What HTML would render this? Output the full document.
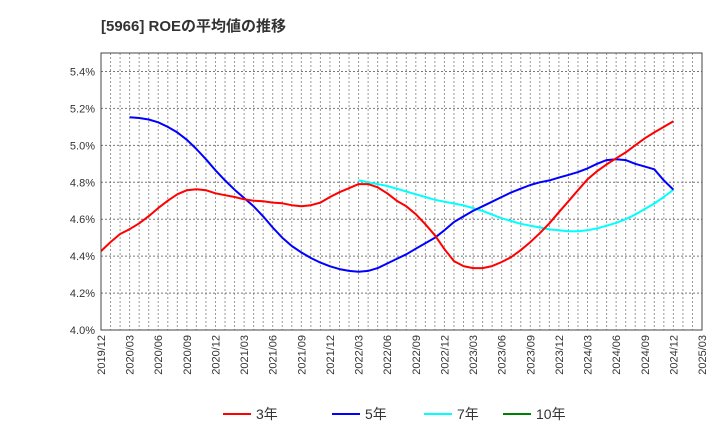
<!DOCTYPE html>
<html><head><meta charset="utf-8">
<style>
body{margin:0;background:#fff;font-family:"Liberation Sans","Noto Sans CJK JP",sans-serif;}
#c{position:absolute;left:0;top:0;width:720px;height:440px;}
</style></head>
<body>
<svg id="c" width="720" height="440" xmlns="http://www.w3.org/2000/svg">
<text x="101" y="31" font-size="15" font-weight="bold" fill="#333">[5966]  ROEの平均値の推移</text>
<g id="grid"></g>
<g id="series"></g>
<g id="axes"></g>
<g id="legend"></g>
</svg>
<script>
const yTicks=[4.0,4.2,4.4,4.6,4.8,5.0,5.2,5.4];
const xTickLabels=["2019/12","2020/03","2020/06","2020/09","2020/12","2021/03","2021/06","2021/09","2021/12","2022/03","2022/06","2022/09","2022/12","2023/03","2023/06","2023/09","2023/12","2024/03","2024/06","2024/09","2024/12","2025/03"];
const s3=[4.427,4.476,4.52,4.546,4.578,4.616,4.66,4.70,4.735,4.757,4.762,4.757,4.74,4.73,4.72,4.708,4.70,4.697,4.69,4.686,4.676,4.67,4.676,4.69,4.72,4.746,4.768,4.79,4.79,4.773,4.74,4.70,4.67,4.627,4.573,4.513,4.438,4.373,4.346,4.335,4.335,4.346,4.368,4.395,4.432,4.476,4.524,4.578,4.638,4.697,4.757,4.816,4.86,4.897,4.93,4.962,5.0,5.038,5.07,5.10,5.13];
const s5=[null,null,null,5.152,5.148,5.14,5.125,5.10,5.07,5.03,4.98,4.925,4.865,4.81,4.76,4.715,4.67,4.615,4.555,4.50,4.455,4.42,4.39,4.365,4.345,4.33,4.32,4.315,4.32,4.335,4.36,4.385,4.41,4.44,4.47,4.50,4.54,4.585,4.615,4.645,4.67,4.695,4.72,4.745,4.765,4.785,4.80,4.81,4.825,4.84,4.855,4.875,4.90,4.92,4.925,4.92,4.90,4.885,4.87,4.81,4.76];
const s7=[null,null,null,null,null,null,null,null,null,null,null,null,null,null,null,null,null,null,null,null,null,null,null,null,null,null,null,4.81,4.80,4.79,4.78,4.765,4.75,4.735,4.72,4.705,4.695,4.685,4.675,4.66,4.645,4.625,4.605,4.59,4.575,4.565,4.555,4.545,4.54,4.535,4.535,4.54,4.55,4.565,4.58,4.60,4.625,4.655,4.685,4.72,4.76];
const s10=[];
const L=101,R=702,T=53,B=330,months=63;
const NS="http://www.w3.org/2000/svg";
const X=i=>L+i*(R-L)/months;
const Y=v=>B-(v-4.0)/1.5*(B-T);
function mk(t,a,p){const e=document.createElementNS(NS,t);for(const k in a)e.setAttribute(k,a[k]);p.appendChild(e);return e;}
const grid=document.getElementById('grid'),axes=document.getElementById('axes'),ser=document.getElementById('series'),leg=document.getElementById('legend');
for(let m=1;m<months;m++){const g=mk('line',{x1:X(m),x2:X(m),y1:T,y2:B,stroke:'#999','stroke-dasharray':'2,2','stroke-width':1},grid);

}
yTicks.forEach(v=>{const g=mk('line',{x1:L,x2:R,y1:Y(v),y2:Y(v),stroke:'#777','stroke-dasharray':'2,2','stroke-width':1},grid);


const t=mk('text',{x:L-6,y:Y(v)+4,'text-anchor':'end','font-size':11,fill:'#333'},axes);t.textContent=v.toFixed(1)+'%';

});
const box=mk('rect',{x:L,y:T,width:R-L,height:B-T,fill:'none',stroke:'#444','stroke-width':1},axes);


xTickLabels.forEach((s,k)=>{const x=X(k*3);const t=mk('text',{x:0,y:0,transform:`translate(${x+4},${B+5}) rotate(-90)`,'text-anchor':'end','font-size':11,fill:'#333'},axes);t.textContent=s;

});
function line(d,c,n){let p='';d.forEach((v,i)=>{if(v==null)return;p+=(p?'L':'M')+X(i).toFixed(1)+','+Y(v).toFixed(1);});if(!p)return;
const e=mk('path',{d:p,fill:'none',stroke:c,'stroke-width':2,'stroke-linejoin':'round'},ser);

}
line(s7,'#00ffff','series-7y');line(s5,'#0000ff','series-5y');line(s3,'#ff0000','series-3y');line(s10,'#008000','series-10y');
[['3年','#ff0000',223],['5年','#0000ff',332],['7年','#00ffff',424],['10年','#008000',503]].forEach(([n,c,x])=>{
const g=mk('g',{},leg);


mk('line',{x1:x,x2:x+28,y1:414,y2:414,stroke:c,'stroke-width':2},g);
const t=mk('text',{x:x+33,y:419,'font-size':14,fill:'#333'},g);t.textContent=n;});
</script>
</body></html>
